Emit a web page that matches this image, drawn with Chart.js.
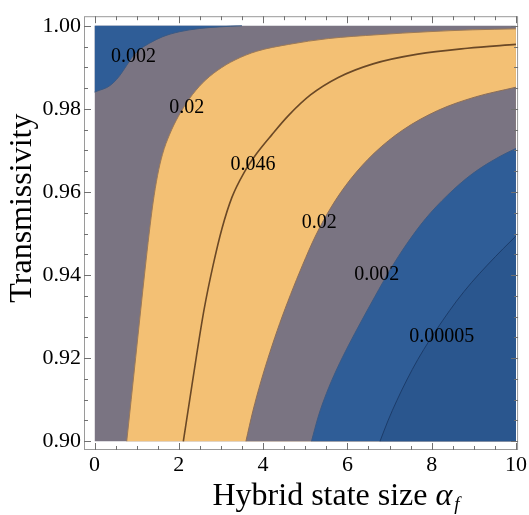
<!DOCTYPE html>
<html>
<head>
<meta charset="utf-8">
<script src="https://cdn.jsdelivr.net/npm/chart.js@4"></script>
<style>
  html, body { margin: 0; padding: 0; background: #fff; }
  #wrap { width: 529px; height: 515px; }
</style>
</head>
<body>
<div id="wrap"><canvas id="chart" width="529" height="515"></canvas></div>
<script>
// contour lines: alpha_f (x) vs transmissivity (y)
const top002X = [0, 0.127, 0.292, 0.441, 0.599, 0.756, 0.912, 1.070, 1.306, 1.619, 2.013, 2.484, 2.956, 3.498];
const top002Y = [0.98404, 0.98451, 0.98514, 0.98622, 0.98802, 0.99036, 0.99270, 0.99427, 0.99582, 0.99738, 0.99856, 0.99933, 0.99973, 1.0];

const left02X = [0.764, 0.870, 0.976, 1.093, 1.200, 1.294, 1.388, 1.494, 1.612, 1.777, 1.989, 2.248, 2.555, 2.908, 3.333, 3.851, 4.605, 5.548, 6.727, 7.905, 8.966, 10];
const left02Y = [0.9, 0.91007, 0.92014, 0.93138, 0.94144, 0.94987, 0.95736, 0.96391, 0.96906, 0.97374, 0.97819, 0.98240, 0.98615, 0.98919, 0.99177, 0.99387, 0.99551, 0.99692, 0.99785, 0.99856, 0.99902, 0.99926];

const mid046X = [2.107, 2.260, 2.413, 2.602, 2.814, 3.026, 3.262, 3.545, 3.851, 4.205, 4.605, 5.124, 5.784, 6.609, 7.670, 8.848, 10];
const mid046Y = [0.9, 0.91007, 0.92014, 0.93184, 0.94238, 0.95127, 0.95876, 0.96461, 0.96930, 0.97374, 0.97842, 0.98334, 0.98755, 0.99083, 0.99317, 0.99458, 0.99551];

const right02X = [3.592, 3.757, 3.945, 4.158, 4.393, 4.653, 4.935, 5.242, 5.619, 6.067, 6.632, 7.316, 8.141, 9.037, 10];
const right02Y = [0.9, 0.90726, 0.91429, 0.92131, 0.92833, 0.93535, 0.94238, 0.94940, 0.95642, 0.96298, 0.96930, 0.97491, 0.97959, 0.98287, 0.98521];

const low002X = [5.148, 5.313, 5.501, 5.737, 6.020, 6.326, 6.656, 7.010, 7.410, 7.858, 8.377, 8.966, 9.626, 10];
const low002Y = [0.9, 0.90609, 0.91148, 0.91710, 0.92295, 0.92880, 0.93489, 0.94121, 0.94753, 0.95361, 0.95923, 0.96438, 0.96859, 0.97047];

const low00005X = [6.774, 6.962, 7.175, 7.410, 7.670, 7.952, 8.259, 8.589, 8.942, 9.319, 9.697, 10];
const low00005Y = [0.9, 0.90492, 0.90984, 0.91475, 0.91967, 0.92435, 0.92903, 0.93372, 0.93816, 0.94238, 0.94636, 0.94940];

// contour labels and where they sit
const labelText = ['0.002', '0.02', '0.046', '0.02', '0.002', '0.00005'];
const labelX = [0.926, 2.19, 3.763, 5.334, 6.694, 8.241];
const labelY = [0.99251, 0.98033, 0.96651, 0.95269, 0.94005, 0.92506];

const xMajor = [0, 2, 4, 6, 8, 10];
const xMinor = [0.5, 1, 1.5, 2.5, 3, 3.5, 4.5, 5, 5.5, 6.5, 7, 7.5, 8.5, 9, 9.5];
const yMajor = [0.90, 0.92, 0.94, 0.96, 0.98, 1.00];
const yMinor = [0.905, 0.91, 0.915, 0.925, 0.93, 0.935, 0.945, 0.95, 0.955, 0.965, 0.97, 0.975, 0.985, 0.99, 0.995];

const GRAY = '#7a7482';
const ORANGE = '#f3c074';
const BLUE = '#2f5d97';
const DARKBLUE = '#2a568e';
const SERIF = "'Liberation Serif', 'Times New Roman', serif";

const pts = (xs, ys) => xs.map((x, i) => ({ x, y: ys[i] }));

const framePlugin = {
    id: 'frame',
    afterDatasetsDraw(chart) {
        const { ctx, chartArea: a, scales: { x, y } } = chart;
        ctx.save();
        ctx.strokeStyle = '#9a9a9a';
        ctx.lineWidth = 1;
        ctx.strokeRect(a.left + 0.5, a.top + 0.5, a.right - a.left - 1, a.bottom - a.top - 1);
        ctx.strokeStyle = '#707070';
        const tick = (vals, len) => {
            vals.forEach(v => {
                const px = Math.round(x.getPixelForValue(v)) + 0.5;
                ctx.beginPath();
                ctx.moveTo(px, a.bottom); ctx.lineTo(px, a.bottom - len);
                ctx.moveTo(px, a.top); ctx.lineTo(px, a.top + len);
                ctx.stroke();
            });
        };
        const tickY = (vals, len) => {
            vals.forEach(v => {
                const py = Math.round(y.getPixelForValue(v)) + 0.5;
                ctx.beginPath();
                ctx.moveTo(a.left, py); ctx.lineTo(a.left + len, py);
                ctx.moveTo(a.right, py); ctx.lineTo(a.right - len, py);
                ctx.stroke();
            });
        };
        tick(xMajor, 7); tick(xMinor, 4);
        tickY(yMajor, 7); tickY(yMinor, 4);

        // contour labels
        ctx.fillStyle = '#000';
        ctx.font = '20px ' + SERIF;
        ctx.textAlign = 'center';
        ctx.textBaseline = 'middle';
        labelText.forEach((t, i) => {
            ctx.fillText(t, x.getPixelForValue(labelX[i]), y.getPixelForValue(labelY[i]));
        });
        ctx.restore();
    },
    afterDraw(chart) {
        const { ctx, chartArea: a } = chart;
        ctx.save();
        ctx.fillStyle = '#000';
        // y title
        ctx.font = '32px ' + SERIF;
        ctx.textAlign = 'center';
        ctx.textBaseline = 'alphabetic';
        ctx.translate(31, (a.top + a.bottom) / 2 - 25);
        ctx.rotate(-Math.PI / 2);
        ctx.fillText('Transmissivity', 0, 0);
        ctx.restore();

        // x title with alpha_f
        ctx.save();
        ctx.fillStyle = '#000';
        ctx.textBaseline = 'alphabetic';
        ctx.textAlign = 'left';
        const main = 'Hybrid state size ';
        ctx.font = '32px ' + SERIF;
        const w1 = ctx.measureText(main).width;
        ctx.font = 'italic 32px ' + SERIF;
        const w2 = ctx.measureText('α').width;
        ctx.font = 'italic 19px ' + SERIF;
        const w3 = ctx.measureText('f').width;
        const total = w1 + w2 + 2 + w3;
        let sx = (a.left + a.right) / 2 + 35 - total / 2;
        const base = 505;
        ctx.font = '32px ' + SERIF;
        ctx.fillText(main, sx, base);
        ctx.font = 'italic 32px ' + SERIF;
        ctx.fillText('α', sx + w1, base);
        ctx.font = 'italic 19px ' + SERIF;
        ctx.fillText('f', sx + w1 + w2 + 2, base + 5);
        ctx.restore();
    }
};

new Chart(document.getElementById('chart'), {
    type: 'line',
    data: {
        datasets: [
            { data: pts([0, 10], [1, 1]), fill: { value: 0.9 }, backgroundColor: GRAY, borderWidth: 0, order: 7 },
            { data: pts(left02X, left02Y), fill: { value: 0.9 }, backgroundColor: ORANGE, borderColor: '#9c7a58', borderWidth: 1, order: 6 },
            { data: pts(mid046X, mid046Y), fill: false, borderColor: '#6a4826', borderWidth: 1.6, order: 5 },
            { data: pts(right02X, right02Y), fill: { value: 0.9 }, backgroundColor: GRAY, borderColor: '#8c6e58', borderWidth: 1, order: 4 },
            { data: pts(low002X, low002Y), fill: { value: 0.9 }, backgroundColor: BLUE, borderColor: '#3b5a84', borderWidth: 1, order: 3 },
            { data: pts(low00005X, low00005Y), fill: { value: 0.9 }, backgroundColor: DARKBLUE, borderColor: '#1c3c6a', borderWidth: 1, order: 2 },
            { data: pts(top002X, top002Y), fill: { value: 1.0 }, backgroundColor: BLUE, borderColor: '#3b5a84', borderWidth: 1, order: 1 }
        ]
    },
    options: {
        responsive: false,
        animation: false,
        layout: { padding: { left: 0, right: 8, top: 4, bottom: 0 } },
        elements: { point: { radius: 0 }, line: { cubicInterpolationMode: 'monotone' } },
        plugins: { legend: { display: false }, tooltip: { enabled: false } },
        scales: {
            x: {
                type: 'linear', min: -0.25, max: 10.05,
                grid: { display: false, drawTicks: false }, border: { display: false },
                afterBuildTicks: s => { s.ticks = xMajor.map(v => ({ value: v })); },
                afterFit: s => { s.height = 65; },
                ticks: { padding: 2, color: '#000', font: { family: SERIF, size: 22 }, callback: v => String(v) }
            },
            y: {
                type: 'linear', min: 0.8979, max: 1.0023,
                grid: { display: false, drawTicks: false }, border: { display: false },
                afterBuildTicks: s => { s.ticks = yMajor.map(v => ({ value: v })); },
                afterFit: s => { s.width = 84; },
                ticks: { padding: 3, color: '#000', font: { family: SERIF, size: 22 }, callback: v => v.toFixed(2) }
            }
        }
    },
    plugins: [framePlugin]
});
</script>
</body>
</html>
